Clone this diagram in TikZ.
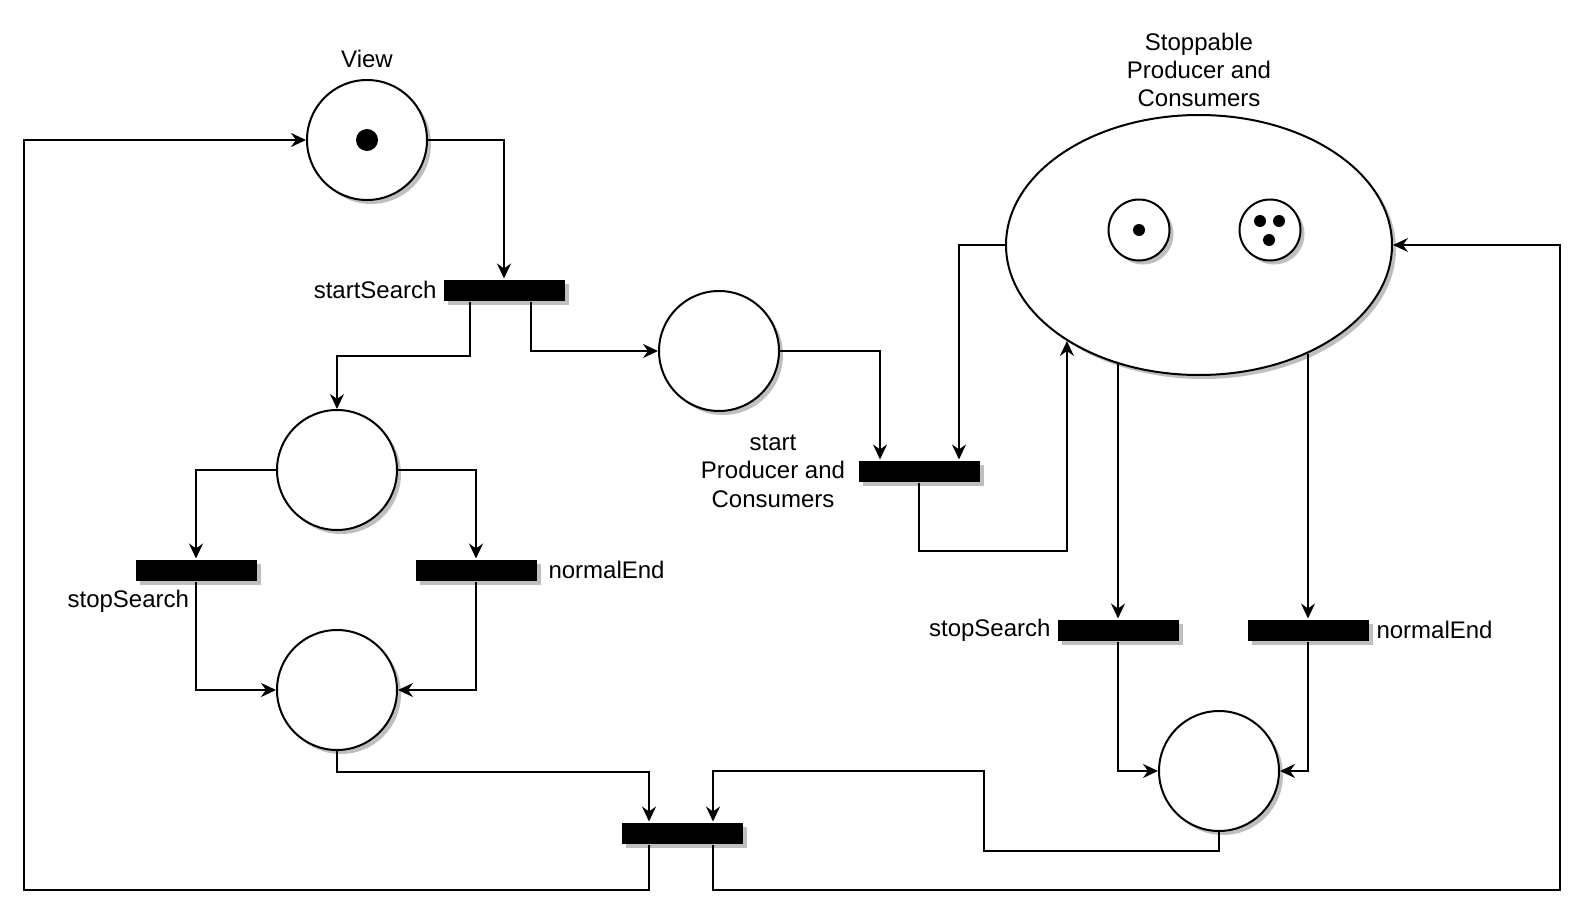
\documentclass[tikz,border=0pt]{standalone}
\usepackage{fontspec}
\setmainfont{Liberation Sans}
\usepackage{tikz}
\usetikzlibrary{positioning,calc,shapes.geometric,shadows,arrows.meta}

\begin{document}
\begin{tikzpicture}[x=0.5pt,y=-0.5pt,line width=1pt,
  font=\fontsize{12pt}{14.2pt}\selectfont,
  >={Stealth[length=7.5pt,width=7pt,inset=2.5pt]},
  boxshadow/.style={drop shadow={shadow xshift=2pt,shadow yshift=-2pt,fill=black!25,opacity=1}},
  place/.style={circle,draw,fill=white,minimum size=60pt,inner sep=0pt,boxshadow},
  subplace/.style={circle,draw,fill=white,minimum size=30.5pt,inner sep=0pt,boxshadow},
  trans/.style={rectangle,fill=black,minimum width=60.5pt,minimum height=10.5pt,inner sep=0pt,boxshadow},
  token/.style={circle,fill=black,minimum size=#1,inner sep=0pt},
  lbl/.style={inner sep=0pt,align=center}]
\useasboundingbox (0,0) rectangle (1590,920);

\node [place] (view) at (367,140) {};
\node [token=11pt] (viewTok) at (view) {};
\node [lbl] (viewL) at (367,59) {View};
\node [trans] (tSS) at (504,290) {};
\node [lbl,left=2.5pt of tSS] (tSSL) {startSearch};
\node [place] (wait) at (719,351) {};
\node [place] (search) at (337,470) {};
\node [trans] (tSL) at (196,570) {};
\node [lbl,anchor=east] (tSLL) at (190,601) {stopSearch};
\node [trans] (tNL) at (476,570) {};
\node [lbl,right=5pt of tNL] (tNLL) {normalEnd};
\node [place] (done) at (337,690) {};
\node [trans] (tB) at (682,833) {};
\node [trans] (tSP) at (919,471) {};
\node [lbl] (tSPL) at (773,471) {start\\Producer and\\Consumers};

\node [ellipse,draw,fill=white,minimum width=193pt,minimum height=130pt,inner sep=0pt,boxshadow] (pc) at (1199,245) {};
\node [lbl] (pcL) at (1199,70) {Stoppable\\Producer and\\Consumers};
\node [subplace] (prod) at (1139,230) {};
\node [token=6pt] (prodTok) at (prod) {};
\node [subplace] (cons) at (1270,230) {};
\node [token=6pt] (consTokA) at ($(cons)+(-10,-9)$) {};
\node [token=6pt] (consTokB) at ($(cons)+(9,-9)$) {};
\node [token=6pt] (consTokC) at ($(cons)+(-1,10)$) {};
\node [trans] (tRS) at (1118,630) {};
\node [lbl,left=2.5pt of tRS] (tRSL) {stopSearch};
\node [trans] (tRN) at (1308,630) {};
\node [lbl,right=3pt of tRN] (tRNL) {normalEnd};
\node [place] (end) at (1219,771) {};

\draw [->] (view.east) -| (tSS.north);
\draw [->] ($(tSS.south)+(-34,0)$) -- ++(0,54) -| (search.north);
\draw [->] ($(tSS.south)+(27,0)$) |- (wait.west);
\draw [->] (wait.east) -| ($(tSP.north)+(-39,0)$);
\draw [->] (pc.west) -| ($(tSP.north)+(40,0)$);
\draw [->] (tSP.south) -- ++(0,68) -| (pc.216.2);
\draw [->] (search.west) -| (tSL.north);
\draw [->] (search.east) -| (tNL.north);
\draw [->] (tSL.south) |- (done.west);
\draw [->] (tNL.south) |- (done.east);
\draw [->] (done.south) -- ++(0,21) -| ($(tB.north)+(-33,0)$);
\draw [->] (end.south) -- ++(0,19) -| (984,771) -| ($(tB.north)+(31,0)$);
\draw [->] ($(tB.south)+(-33,0)$) |- (24,890) |- (view.west);
\draw [->] ($(tB.south)+(31,0)$) |- (1560,890) |- (pc.east);
\draw [->] (tRS.north |- pc.235.5) -- (tRS.north);
\draw [->] (tRN.north |- pc.315.5) -- (tRN.north);
\draw [->] (tRS.south) |- (end.west);
\draw [->] (tRN.south) |- (end.east);
\end{tikzpicture}
\end{document}
